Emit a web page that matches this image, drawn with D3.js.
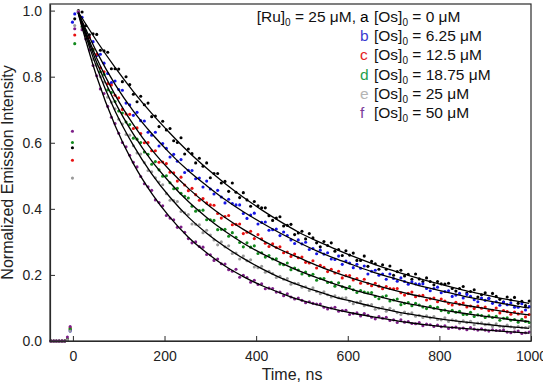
<!DOCTYPE html>
<html><head><meta charset="utf-8">
<script src="https://cdn.jsdelivr.net/npm/d3@7"></script>
<style>
html,body{margin:0;padding:0;background:#fff;}
text{font-family:Arial,"Liberation Sans",Helvetica,sans-serif;}
</style></head>
<body>
<svg id="chart" width="543" height="384"></svg>
<script>
// ---------------- data ----------------
const dotStart = 12, dotStep = 8; // sampling grid of the decay traces (ns)
const preTimes = [-48,-42,-36,-30,-24,-18,-12,-6,-1,4];
const fitTimes = [12,52,92,132,172,212,252,292,332,372,412,452,492,532,572,612,652,692,732,772,812,852,892,932,972,996];
const xTicks = [0,200,400,600,800,1000];
const yTicks = [0,0.2,0.4,0.6,0.8,1.0];
const seriesKeys = ["a","b","c","d","e","f"];
const concentrations = ["0","6.25","12.5","18.75","25","50"];
const dotColors = ["#000000","#1515e6","#e81010","#138a1e","#9a9a9a","#7d1f88"];
const letterColors = ["#000000","#3a3ad0","#e52222","#1fa04a","#b4b4b4","#7a3a9a"];

const prePulse = [
  [0,0,0,0,0,0,0.004,0.034,0.585,0.975],
  [0,0,0,0,0,0,0.004,0.030,0.965,0.990],
  [0,0,0,0,0,0,0.005,0.040,0.547,0.926],
  [0,0,0,0,0,0,0.005,0.038,0.601,0.900],
  [0,0,0,0,0,0,0.004,0.030,0.493,0.955],
  [0,0,0,0,0,0,0.012,0.044,0.635,0.945]
];

const blackDots = [1.0,0.996,0.954,0.927,0.930, 0.928,0.880,0.878,0.874,0.824, 0.824,0.823,0.785,0.800,0.776, 0.747,0.724,0.741,0.715,0.720, 0.679,0.681,0.649,0.665,0.639, 0.643,0.606,0.601,0.615,0.566, 0.581,0.567,0.539,0.553,0.529, 0.539,0.494,0.507,0.507,0.478, 0.483,0.453,0.478,0.450,0.434, 0.449,0.427,0.408,0.422,0.409, 0.403,0.403,0.379,0.365,0.372, 0.376,0.348,0.350,0.353,0.322, 0.327,0.332,0.309,0.325,0.312, 0.297,0.285,0.301,0.289,0.297, 0.272,0.277,0.259,0.273,0.260, 0.266,0.244,0.244,0.257,0.226, 0.241,0.234,0.217,0.231,0.217, 0.227,0.199,0.210,0.214,0.197, 0.202,0.187,0.203,0.188,0.180, 0.191,0.180,0.170,0.180,0.173, 0.172,0.175,0.159,0.151,0.159, 0.165,0.145,0.150,0.155,0.133, 0.140,0.146,0.129,0.144,0.135, 0.126,0.118,0.133,0.124,0.132, 0.114,0.120,0.107,0.121];
const blueDots = [0.995,0.980,0.930,0.919,0.906, 0.864,0.868,0.841,0.810,0.782, 0.787,0.761,0.759,0.720,0.715, 0.683,0.692,0.667,0.666,0.632, 0.623,0.632,0.590,0.598,0.583, 0.557,0.565,0.544,0.549,0.510, 0.517,0.516,0.491,0.493,0.466, 0.484,0.460,0.445,0.456,0.436, 0.418,0.429,0.416,0.412,0.412, 0.386,0.371,0.381,0.387,0.354, 0.359,0.360,0.335,0.337,0.339, 0.319,0.330,0.319,0.306,0.295, 0.306,0.294,0.299,0.277,0.280, 0.264,0.275,0.263,0.267,0.248, 0.247,0.257,0.232,0.242,0.236, 0.222,0.232,0.220,0.227,0.203, 0.211,0.214,0.199,0.203,0.187, 0.203,0.189,0.181,0.191,0.180, 0.172,0.179,0.173,0.172,0.173, 0.159,0.152,0.159,0.163,0.146, 0.150,0.152,0.135,0.139,0.144, 0.130,0.141,0.135,0.125,0.119, 0.130,0.123,0.129,0.114,0.119, 0.108,0.118,0.110,0.115,0.102, 0.102,0.113,0.094,0.104];
const redDots = [0.997,0.961,0.926,0.919,0.883, 0.868,0.827,0.815,0.779,0.775, 0.744,0.736,0.701,0.687,0.686, 0.643,0.645,0.628,0.600,0.601, 0.576,0.576,0.541,0.542,0.537, 0.511,0.509,0.484,0.496,0.472, 0.455,0.462,0.443,0.426,0.431, 0.418,0.412,0.411,0.386,0.372, 0.377,0.380,0.352,0.353,0.354, 0.325,0.329,0.332,0.310,0.322, 0.309,0.296,0.286,0.294,0.283, 0.285,0.267,0.269,0.256,0.263, 0.252,0.254,0.238,0.236,0.243, 0.221,0.229,0.223,0.210,0.217, 0.206,0.211,0.191,0.198,0.198, 0.185,0.189,0.175,0.187,0.174, 0.167,0.175,0.166,0.158,0.165, 0.159,0.158,0.159,0.146,0.139, 0.144,0.148,0.134,0.137,0.138, 0.124,0.128,0.130,0.119,0.127, 0.121,0.114,0.109,0.117,0.111, 0.115,0.103,0.106,0.098,0.106, 0.099,0.103,0.092,0.093,0.100, 0.085,0.092,0.089,0.081,0.088, 0.082,0.088,0.073,0.080];
const greenDots = [0.994,0.952,0.939,0.902,0.881, 0.836,0.815,0.807,0.760,0.752, 0.725,0.696,0.690,0.663,0.655, 0.614,0.611,0.601,0.572,0.565, 0.535,0.543,0.518,0.499,0.500, 0.479,0.461,0.462,0.447,0.438, 0.433,0.408,0.393,0.395,0.396, 0.367,0.367,0.365,0.337,0.338, 0.338,0.317,0.328,0.314,0.298, 0.285,0.297,0.284,0.288,0.265, 0.267,0.254,0.259,0.248,0.249, 0.233,0.231,0.236,0.216,0.221, 0.215,0.203,0.209,0.198,0.202, 0.184,0.189,0.189,0.177,0.178, 0.166,0.176,0.164,0.158,0.165, 0.155,0.147,0.153,0.148,0.146, 0.147,0.135,0.128,0.134,0.137, 0.121,0.124,0.127,0.110,0.114, 0.116,0.107,0.114,0.109,0.103, 0.098,0.105,0.099,0.102,0.092, 0.094,0.086,0.093,0.087,0.090, 0.080,0.080,0.087,0.074,0.079, 0.077,0.071,0.076,0.071,0.075, 0.063,0.069,0.070,0.063,0.065, 0.057,0.066,0.059,0.056];
const grayDots = [0.998,0.948,0.929,0.895,0.852, 0.834,0.800,0.784,0.738,0.723, 0.703,0.671,0.657,0.625,0.623, 0.591,0.569,0.566,0.540,0.516, 0.512,0.494,0.481,0.473,0.446, 0.426,0.425,0.422,0.392,0.388, 0.383,0.354,0.353,0.352,0.328, 0.335,0.321,0.306,0.291,0.300, 0.285,0.288,0.265,0.266,0.248, 0.257,0.243,0.246,0.224,0.222, 0.226,0.208,0.211,0.204,0.192, 0.196,0.187,0.189,0.172,0.175, 0.174,0.163,0.164,0.153,0.161, 0.150,0.143,0.149,0.140,0.133, 0.137,0.131,0.130,0.131,0.120, 0.113,0.117,0.120,0.107,0.109, 0.110,0.096,0.099,0.102,0.090, 0.099,0.093,0.086,0.080,0.088, 0.082,0.085,0.075,0.078,0.071, 0.076,0.070,0.074,0.065,0.064, 0.070,0.059,0.064,0.062,0.055, 0.061,0.056,0.060,0.049,0.054, 0.055,0.049,0.052,0.044,0.052, 0.045,0.042,0.048,0.043,0.039, 0.044,0.041,0.041,0.043];
const purpleDots = [0.996,0.942,0.914,0.881,0.834, 0.803,0.763,0.749,0.710,0.677, 0.658,0.629,0.601,0.588,0.562, 0.541,0.527,0.498,0.476,0.467, 0.456,0.427,0.419,0.409,0.380, 0.372,0.367,0.344,0.345,0.329, 0.310,0.297,0.300,0.286,0.284, 0.262,0.261,0.244,0.248,0.234, 0.233,0.216,0.211,0.217,0.193, 0.199,0.192,0.178,0.184,0.171, 0.173,0.158,0.160,0.159,0.148, 0.148,0.137,0.143,0.133,0.127, 0.130,0.123,0.116,0.119,0.114, 0.112,0.112,0.102,0.097,0.100, 0.102,0.090,0.092,0.093,0.080, 0.083,0.085,0.076,0.083,0.078, 0.072,0.067,0.074,0.069,0.072, 0.062,0.064,0.056,0.064,0.057, 0.059,0.053,0.052,0.056,0.046, 0.051,0.049,0.044,0.048,0.043, 0.046,0.038,0.041,0.042,0.037, 0.039,0.034,0.041,0.036,0.033, 0.037,0.033,0.030,0.034,0.032, 0.032,0.033,0.027,0.025,0.028, 0.030,0.023,0.025,0.027];

const blackFit  = [0.995,0.908,0.828,0.755,0.689,0.629,0.573,0.523,0.477,0.435,0.397,0.362,0.330,0.303,0.279,0.256,0.235,0.216,0.199,0.183,0.168,0.154,0.142,0.130,0.120,0.114];
const blueFit   = [0.993,0.875,0.777,0.696,0.628,0.568,0.515,0.470,0.428,0.391,0.358,0.327,0.299,0.273,0.250,0.230,0.210,0.193,0.177,0.162,0.149,0.136,0.125,0.115,0.105,0.100];
const redFit    = [0.993,0.856,0.745,0.655,0.579,0.516,0.462,0.415,0.374,0.338,0.306,0.277,0.253,0.229,0.208,0.189,0.172,0.157,0.143,0.131,0.119,0.109,0.100,0.091,0.083,0.079];
const greenFit  = [0.992,0.843,0.723,0.626,0.545,0.479,0.422,0.374,0.332,0.296,0.265,0.238,0.213,0.192,0.172,0.155,0.140,0.126,0.113,0.103,0.093,0.084,0.076,0.069,0.062,0.059];
const grayFit   = [0.990,0.828,0.696,0.592,0.506,0.435,0.375,0.326,0.285,0.250,0.219,0.192,0.170,0.151,0.133,0.119,0.105,0.093,0.082,0.073,0.065,0.058,0.052,0.046,0.041,0.038];
const purpleFit = [0.989,0.800,0.652,0.537,0.447,0.374,0.314,0.267,0.227,0.195,0.168,0.146,0.126,0.110,0.096,0.084,0.074,0.065,0.056,0.049,0.043,0.038,0.034,0.030,0.026,0.024];

const allDots = [blackDots, blueDots, redDots, greenDots, grayDots, purpleDots];
const allFits = [blackFit, blueFit, redFit, greenFit, grayFit, purpleFit];

// ---------------- drawing ----------------
const svg = d3.select("#chart");
const L = 50, R = 531, T = 4, B = 341;
const x = d3.scaleLinear().domain([-50, 1000]).range([L, R]);
const y = d3.scaleLinear().domain([0, 1.02]).range([B, T]);
const axisColor = "#2a2a2a";

// dots
allDots.forEach((vals, s) => {
  const pts = preTimes.map((t, i) => [t, prePulse[s][i]])
    .concat(vals.map((v, i) => [dotStart + i * dotStep, v]));
  svg.append("g").selectAll("circle").data(pts).join("circle")
    .attr("cx", d => x(d[0])).attr("cy", d => y(d[1]))
    .attr("r", 1.55).attr("fill", dotColors[s]);
});

// fitted curves
const line = d3.line().x((d, i) => x(fitTimes[i])).y(d => y(d)).curve(d3.curveMonotoneX);
allFits.forEach(f => {
  svg.append("path").attr("d", line(f)).attr("fill", "none")
    .attr("stroke", "#000").attr("stroke-width", 1.3);
});

// frame
svg.append("rect").attr("x", L).attr("y", T).attr("width", R - L).attr("height", B - T)
  .attr("fill", "none").attr("stroke", axisColor).attr("stroke-width", 1.2);

// axes with inward ticks
const xAxis = svg.append("g").attr("transform", `translate(0,${B})`)
  .call(d3.axisBottom(x).tickValues(xTicks).tickSizeInner(-5).tickSizeOuter(0).tickPadding(10).tickFormat(d3.format("d")));
const yAxis = svg.append("g").attr("transform", `translate(${L},0)`)
  .call(d3.axisLeft(y).tickValues(yTicks).tickSizeInner(-5).tickSizeOuter(0).tickPadding(8).tickFormat(d3.format(".1f")));
[xAxis, yAxis].forEach(g => {
  g.select(".domain").attr("stroke", axisColor).attr("stroke-width", 1.2);
  g.selectAll(".tick line").attr("stroke", axisColor).attr("stroke-width", 1);
  g.selectAll(".tick text").attr("fill", "#222").style("font-size", "14px")
    .style("font-family", "Arial, 'Liberation Sans', sans-serif");
});

// axis titles
svg.append("text").attr("x", 292).attr("y", 380).attr("text-anchor", "middle")
  .style("font-size", "16px").attr("fill", "#222").text("Time, ns");
svg.append("text").attr("transform", `translate(13,${(T + B) / 2}) rotate(-90)`)
  .attr("text-anchor", "middle").style("font-size", "16px").attr("fill", "#222")
  .text("Normalized Emission Intensity");

// legend
const lgFont = 15.5, lgTop = 22, lgStep = 19.2, letterX = 360, osX = 374;
svg.append("text").attr("x", 356).attr("y", lgTop).attr("text-anchor", "end")
  .style("font-size", lgFont + "px").attr("fill", "#111")
  .call(t => { t.append("tspan").text("[Ru]");
    t.append("tspan").attr("dy", 4).style("font-size", "10px").text("0");
    t.append("tspan").attr("dy", -4).text(" = 25 \u03bcM,"); });
seriesKeys.forEach((k, i) => {
  const yy = lgTop + i * lgStep;
  svg.append("text").attr("x", letterX).attr("y", yy).style("font-size", lgFont + "px")
    .attr("fill", letterColors[i]).text(k);
  const t = svg.append("text").attr("x", osX).attr("y", yy).style("font-size", lgFont + "px").attr("fill", "#111");
  t.append("tspan").text("[Os]");
  t.append("tspan").attr("dy", 4).style("font-size", "10px").text("0");
  t.append("tspan").attr("dy", -4).text(" = " + concentrations[i] + " \u03bcM");
});
</script>
</body></html>
